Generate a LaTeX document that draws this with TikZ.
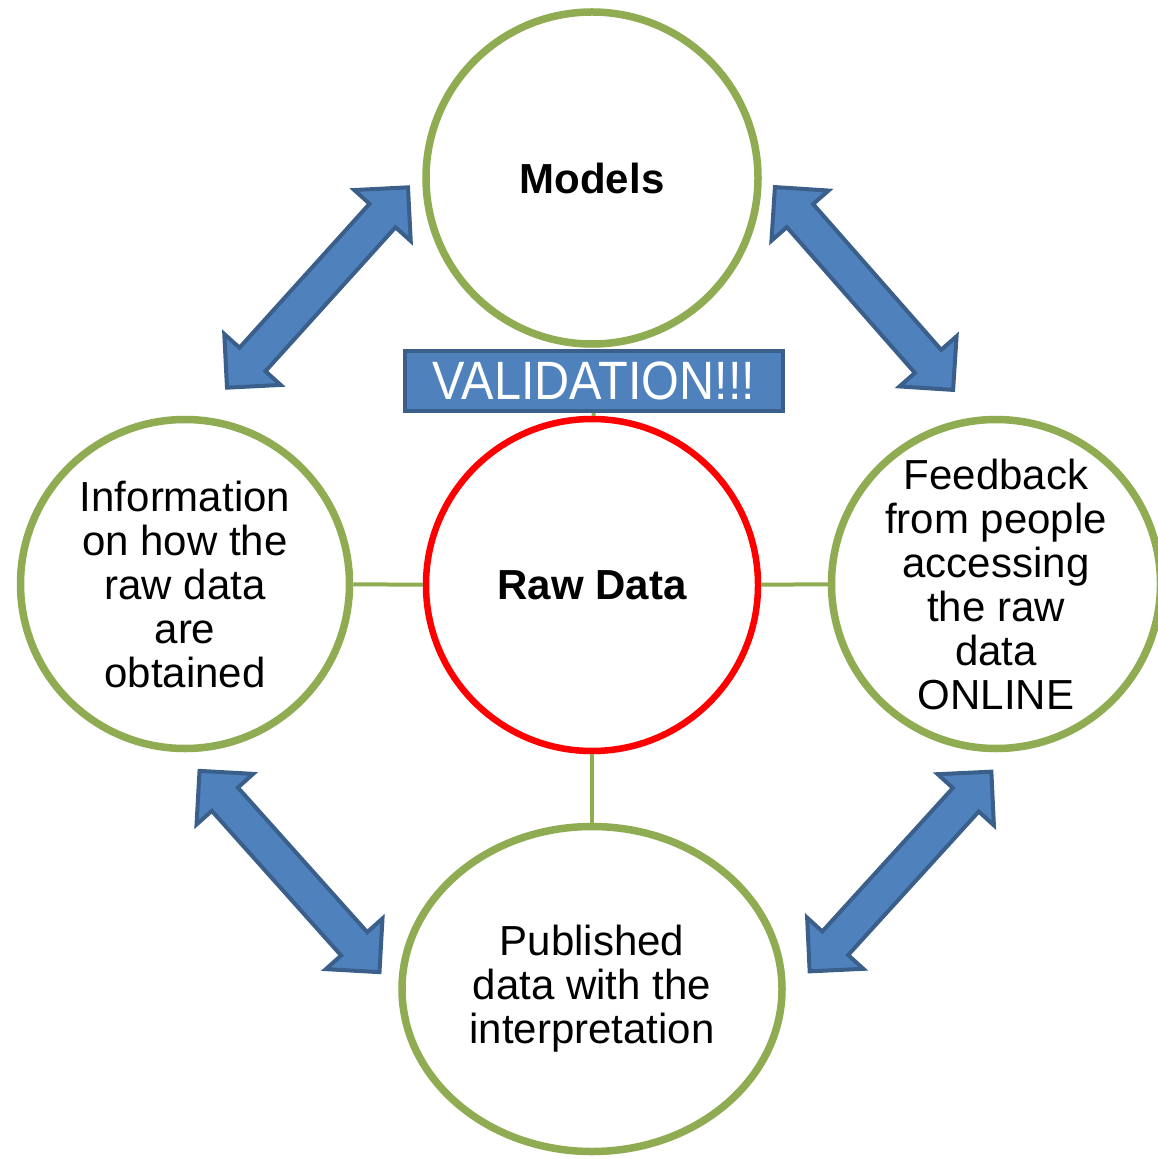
\documentclass[tikz,border=0pt]{standalone}
\usepackage{fontspec}
\setmainfont{Liberation Sans}
\usepackage{graphicx}
\usetikzlibrary{shapes.geometric,shadows}
\definecolor{ringgreen}{HTML}{8FAC52}
\definecolor{boxblue}{HTML}{4F81BD}
\definecolor{boxedge}{HTML}{3A5F8B}
\tikzset{
    bubble/.style={circle, draw=ringgreen, line width=3.75pt, fill=white,
        minimum size=164.5pt, inner sep=0pt,
        drop shadow={opacity=0.2, shadow xshift=0.8pt, shadow yshift=-1.8pt}},
    words/.style={align=center, font=\fontsize{21}{22}\selectfont},
    boldwords/.style={align=center, font=\fontsize{21}{22}\selectfont\bfseries},
    link/.style={draw=ringgreen, line width=2pt},
    blockarrow/.style={draw=boxedge, fill=boxblue, line width=2pt}
}
\begin{document}
\begin{tikzpicture}[x=0.5pt, y=-0.5pt]
\useasboundingbox (0,0) rectangle (1157,1159);
% two-way arrows between the outer circles
\foreach \cx/\cy/\ang in {317.5/287.5/47.9, 864/288.5/-48.7, 289.5/871.5/-48.2, 900.5/871.5/47.7}
  \draw[blockarrow, shift={(\cx,\cy)}, rotate=\ang] (-135,0) -- (-97,38) -- (-97,17.5) -- (97,17.5) -- (97,38)
    -- (135,0) -- (97,-38) -- (97,-17.5) -- (-97,-17.5) -- (-97,-38) -- cycle;
\node[bubble, minimum size=166pt] (M) at (592,178) {};
\node[bubble, draw=red, line width=3.25pt, minimum size=166pt] (R) at (592,585) {};
\node[bubble] (I) at (185,584) {};
\node[bubble] (F) at (996,584) {};
\node[bubble, ellipse, minimum width=190pt, minimum height=162.5pt] (P) at (592,989) {};
\node[draw=boxedge, fill=boxblue, line width=2pt, minimum width=189pt, minimum height=30pt,
    inner sep=0pt, text=white] (V) at (594,381) {\fontsize{27}{28}\selectfont\scalebox{0.9}[1]{VALIDATION!!!}};
\draw[link] (V) -- (R);
\draw[link] (I) -- (R);
\draw[link] (R) -- (F);
\draw[link] (R) -- (P);
\node[boldwords] at (M) {Models};
\node[boldwords] at (R) {Raw Data};
\node[words] at (I) {Information\\on how the\\raw data\\are\\obtained};
\node[words] at (F) {Feedback\\from people\\accessing\\the raw\\data\\ONLINE};
\node[words] at (P) {Published\\data with the\\interpretation};
\end{tikzpicture}
\end{document}
